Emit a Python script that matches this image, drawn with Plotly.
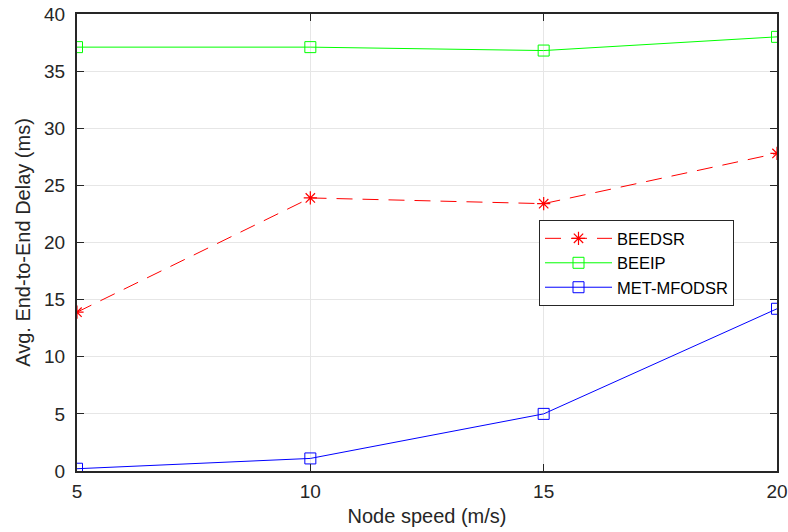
import plotly.graph_objects as go

speeds = [5, 10, 15, 20]
beedsr = [13.9, 23.9, 23.4, 27.8]
beeip = [37.1, 37.1, 36.8, 38.0]
met_mfodsr = [0.2, 1.1, 5.0, 14.2]

FONT = "Liberation Sans, Arial"
fig = go.Figure()
fig.add_trace(go.Scatter(x=speeds, y=beedsr, name="BEEDSR", mode="lines+markers",
                         line=dict(color="#ff0000", width=1, dash="16px,10px"),
                         marker=dict(symbol="asterisk-open", size=11, color="#ff0000",
                                     line=dict(color="#ff0000", width=1.2))))
fig.add_trace(go.Scatter(x=speeds, y=beeip, name="BEEIP", mode="lines+markers",
                         line=dict(color="#00ff00", width=1),
                         marker=dict(symbol="square-open", size=11, color="#00ff00",
                                     line=dict(color="#00ff00", width=1))))
fig.add_trace(go.Scatter(x=speeds, y=met_mfodsr, name="MET-MFODSR", mode="lines+markers",
                         line=dict(color="#0000ff", width=1),
                         marker=dict(symbol="square-open", size=11, color="#0000ff",
                                     line=dict(color="#0000ff", width=1))))

axis_common = dict(showline=True, linecolor="#262626", linewidth=2, mirror="ticks",
                   ticks="inside", ticklen=7, tickcolor="#262626", showgrid=True,
                   gridcolor="#e6e6e6", gridwidth=1, zeroline=False, automargin=False,
                   tickfont=dict(family=FONT, size=19, color="#262626"))
fig.update_xaxes(range=[5, 20], tickvals=[5, 10, 15, 20], ticklabelstandoff=2,
                 title=dict(text="Node speed (m/s)", font=dict(family=FONT, size=20, color="#262626"), standoff=8),
                 **axis_common)
fig.update_yaxes(range=[0, 40], tickvals=list(range(0, 45, 5)), ticklabelstandoff=6,
                 title=dict(text="Avg. End-to-End Delay (ms)", font=dict(family=FONT, size=20, color="#262626"), standoff=8),
                 **axis_common)
fig.update_layout(width=788, height=532, margin=dict(l=77, r=11, t=14, b=61),
                  plot_bgcolor="white", paper_bgcolor="white",
                  legend=dict(x=0.66, y=0.549, xanchor="left", yanchor="top",
                              bgcolor="white", bordercolor="#262626", borderwidth=1,
                              font=dict(family=FONT, size=16.5, color="#000000"),
                              tracegroupgap=0, itemwidth=67))
fig.write_html("out.html")
